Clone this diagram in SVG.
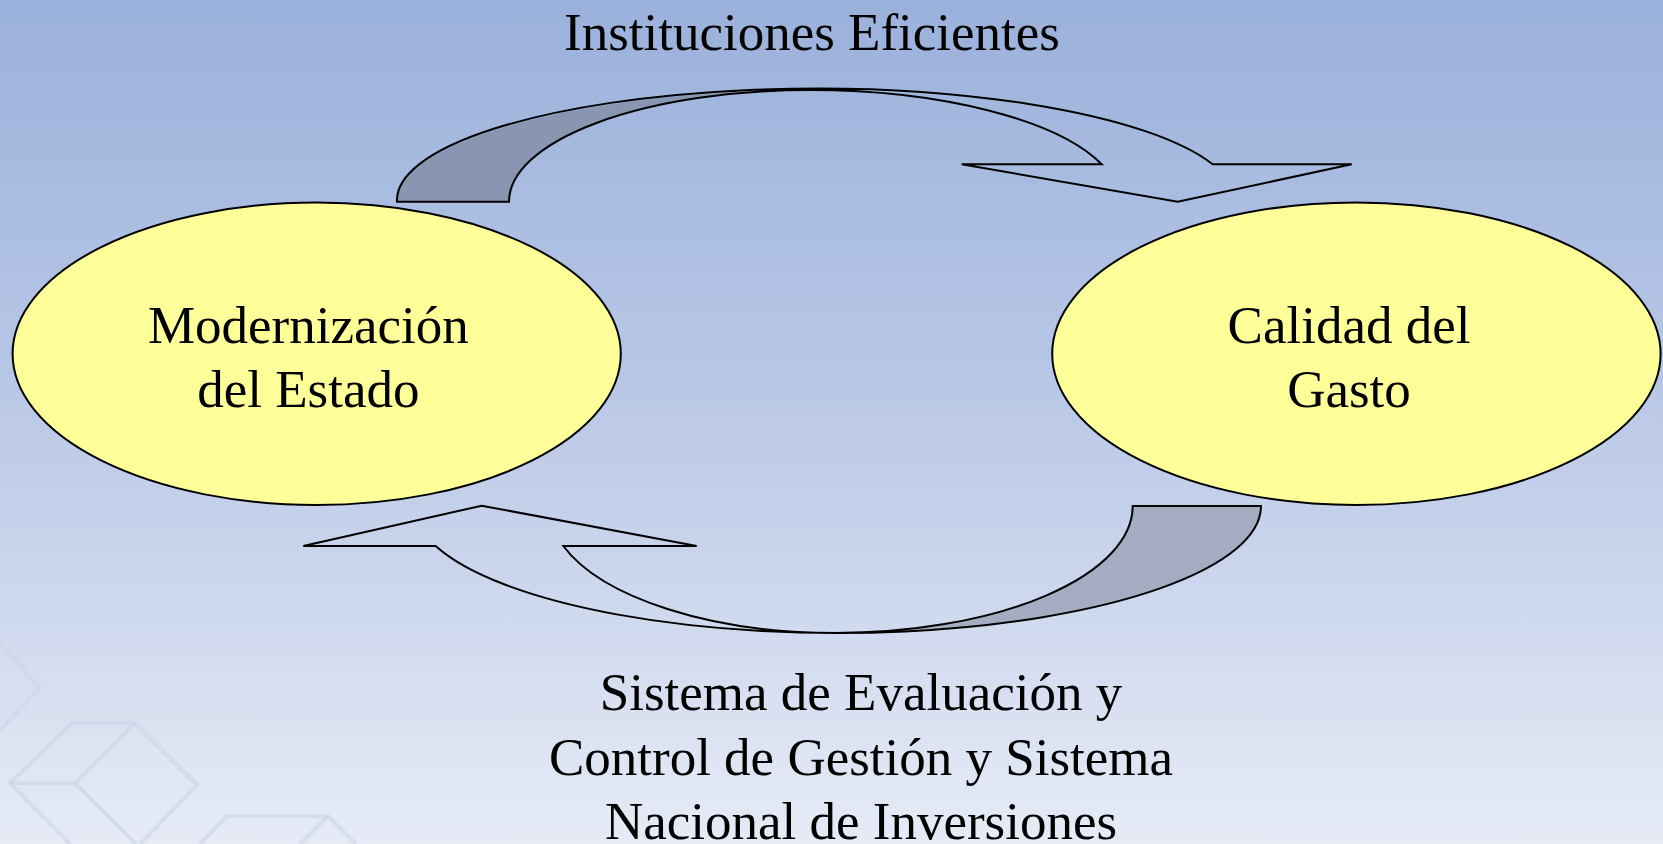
<svg xmlns="http://www.w3.org/2000/svg" width="1663" height="844" viewBox="0 0 1663 844">
<defs>
<linearGradient id="bg" x1="0" y1="0" x2="0" y2="1">
<stop offset="0" stop-color="#9AB1DB"/>
<stop offset="0.45" stop-color="#B8C7E6"/>
<stop offset="1" stop-color="#E6EBF6"/>
</linearGradient>
<style>
.node{fill:#FFFF99;stroke:#000;stroke-width:2}
.arrow{fill:none;stroke:#000;stroke-width:2;stroke-linejoin:miter}
.t{font-family:"Liberation Serif","Times New Roman",serif;font-size:53px;fill:#000;text-anchor:middle}
.pat{fill:none;stroke:#CDD4E8;stroke-width:4;stroke-linejoin:miter;opacity:0.6}
</style>
</defs>
<rect x="0" y="0" width="1663" height="844" fill="url(#bg)"/>
<g id="pattern">
<polyline class="pat" points="0,643 40,688 0,730"/>
<polyline class="pat" points="70,844 10,783 72,723 135,723 197,785 140,844"/>
<polyline class="pat" points="10,783 75,783 135,723"/>
<line class="pat" x1="75" y1="783" x2="136" y2="844"/>
<polyline class="pat" points="200,844 227,816 328,816 356,844"/>
<line class="pat" x1="328" y1="816" x2="300" y2="844"/>
</g>
<g id="connectors">
<g id="arrow-top">
<path d="M397,201.7 A419,111.7 0 0 1 810,90 A301,111.7 0 0 0 509,201.7 Z" fill="#8896B2" stroke="none"/>
<path class="arrow" d="M397,201.7 A419,111.7 0 0 1 1212.7,164.3 L1351.7,164.3 L1177.7,201.7 L961.7,164.3 L1101.7,164.3 A309.6,111.7 0 0 0 810,90 A301,111.7 0 0 0 509,201.7 Z"/>
<text class="t" x="812" y="50">Instituciones Eficientes</text>
</g>
<g id="arrow-bottom">
<path d="M1261,506 A423.4,127 0 0 1 835,633 A297.7,127 0 0 0 1132.7,506 Z" fill="#A3ACC0" stroke="none"/>
<path class="arrow" d="M1261,506 A423.4,127 0 0 1 435.7,546 L303.3,546 L481.7,505.7 L696.7,546 L563.3,546 A286.3,127 0 0 0 835,633 A297.7,127 0 0 0 1132.7,506 Z"/>
<text class="t" x="861" y="710">Sistema de Evaluación y</text>
<text class="t" x="861" y="774.5">Control de Gestión y Sistema</text>
<text class="t" x="861" y="839">Nacional de Inversiones</text>
</g>
</g>
<g id="node-modernizacion">
<ellipse class="node" cx="316.7" cy="353.8" rx="304.1" ry="151.2"/>
<text class="t" x="308.3" y="343.3">Modernización</text>
<text class="t" x="308.3" y="406.7">del Estado</text>
</g>
<g id="node-calidad">
<ellipse class="node" cx="1356.4" cy="353.7" rx="304.2" ry="151.3"/>
<text class="t" x="1349" y="342.7">Calidad del</text>
<text class="t" x="1349" y="406.7">Gasto</text>
</g>
</svg>
